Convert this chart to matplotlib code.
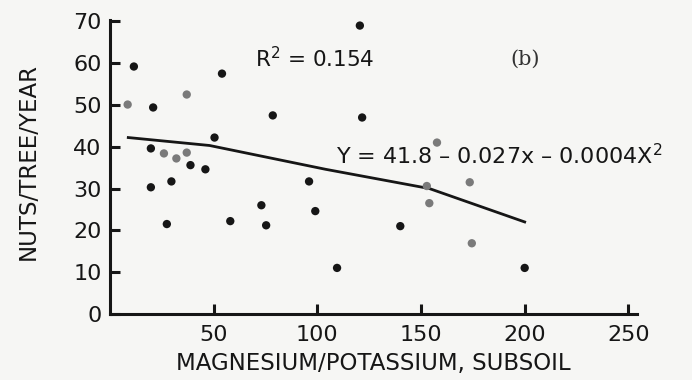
import matplotlib.pyplot as plt

plt.rcParams['font.family'] = 'DejaVu Sans'
plt.rcParams['mathtext.default'] = 'regular'

# black points (Mg/K ratio, nuts per tree per year)
black_x = [11.5, 20.8, 54, 78.5, 50.4, 19.7, 38.8, 46, 19.7, 29.6, 96,
           27.4, 58, 73, 75.3, 99, 109.5, 120.5, 121.6, 140, 200]
black_y = [59.2, 49.4, 57.5, 47.5, 42.2, 39.6, 35.6, 34.6, 30.3, 31.7, 31.7,
           21.5, 22.2, 26, 21.2, 24.6, 11, 69, 47, 21, 11]

# grey points
grey_x = [8.5, 37, 26, 32, 37, 157.7, 152.8, 173.5, 154, 174.5]
grey_y = [50.1, 52.5, 38.4, 37.2, 38.6, 41, 30.6, 31.5, 26.5, 16.9]

# fitted curve as drawn in the figure
fit_x = [8.8, 48, 104, 154, 200]
fit_y = [42.2, 40.3, 34.6, 30.0, 22.0]

ink = '#161616'

fig = plt.figure(figsize=(6.92, 3.80), dpi=100, facecolor='#f6f6f4')
ax = fig.add_axes([0.159, 0.174, 0.761, 0.773])
ax.set_facecolor('none')

ax.plot(fit_x, fit_y, color=ink, lw=2.0, zorder=2)

ax.scatter(black_x, black_y, s=36, color=ink, edgecolors='none', zorder=3)
ax.scatter(grey_x, grey_y, s=36, color='#7a7a7a', edgecolors='none', zorder=3)

ax.set_xlim(0, 254)
ax.set_ylim(0, 70.3)
ax.set_xticks([50, 100, 150, 200, 250])
ax.set_yticks(range(0, 80, 10))

for s in ['top', 'right']:
    ax.spines[s].set_visible(False)
for s in ['left', 'bottom']:
    ax.spines[s].set_linewidth(2.2)
    ax.spines[s].set_color(ink)

ax.tick_params(direction='in', length=7, width=2.2, colors=ink,
               labelsize=16, pad=6)
ax.tick_params(axis='x', pad=8)

ax.set_xlabel('MAGNESIUM/POTASSIUM, SUBSOIL', fontsize=16.5, color=ink,
              labelpad=5)
ax.set_ylabel('NUTS/TREE/YEAR', fontsize=16.5, color=ink, labelpad=24)
ax.yaxis.set_label_coords(-0.133, 0.52)

ax.text(70, 61, 'R$^2$ = 0.154', fontsize=15.5, color=ink, va='center')
ax.text(200, 61, '(b)', fontsize=15, color='#333333', va='center',
        ha='center', family='DejaVu Serif')
ax.text(109, 37.8, 'Y = 41.8 \u2013 0.027x \u2013 0.0004X$^2$', fontsize=16,
        color=ink, va='center', clip_on=False)

plt.savefig('out.png', dpi=100, facecolor=fig.get_facecolor())
